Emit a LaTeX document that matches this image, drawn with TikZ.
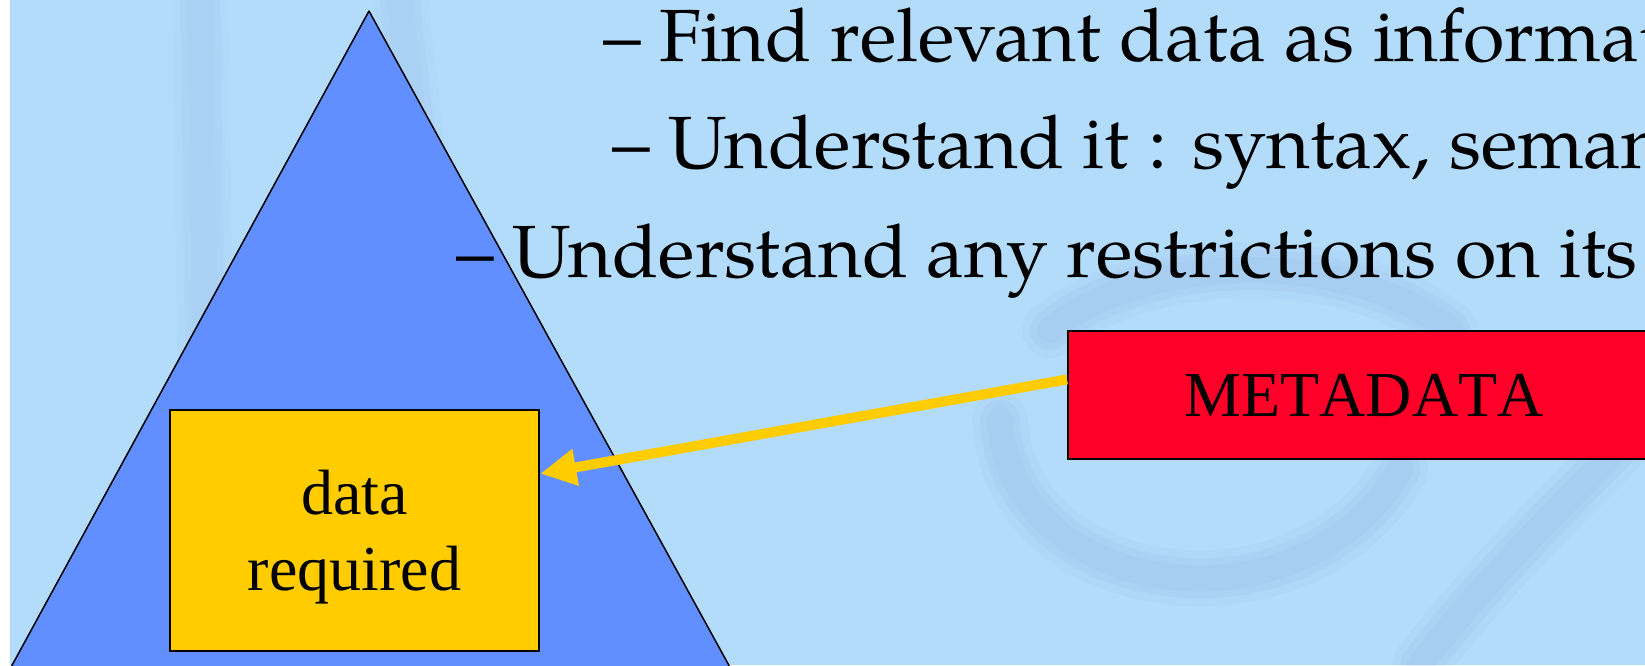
\documentclass[tikz,border=0pt]{standalone}
\usepackage{fontspec}
\setmainfont[Kerning=Off]{Liberation Serif}
\newfontfamily\palafont[FakeStretch=1.02]{TeX Gyre Pagella}
\usetikzlibrary{arrows.meta,positioning}
\tikzset{>=latex}
\definecolor{slidebg}{RGB}{179,220,250}
\definecolor{pyramidblue}{RGB}{98,143,255}
\definecolor{datayellow}{RGB}{255,204,0}
\definecolor{metared}{RGB}{255,0,40}
\colorlet{watermark}{blue!35!gray}
\tikzset{
  bulletline/.style={anchor=base west,inner sep=0pt,
    font=\palafont\fontsize{74}{88}\selectfont},
  databox/.style={draw=black,line width=2.5pt,fill=datayellow,inner sep=0pt,
    minimum width=369pt,minimum height=241pt},
  boxtext/.style={inner sep=0pt,align=center,font=\fontsize{64}{76}\selectfont},
  metabox/.style={draw=black,line width=2pt,fill=metared,inner sep=0pt,
    minimum width=592pt,minimum height=128pt,
    font=\fontsize{64}{76}\selectfont},
  pointer/.style={datayellow,line width=10pt,
    -{Triangle[length=36pt,width=35pt]}},
  swirl/.style={watermark,opacity=.035,line cap=round},
}
\begin{document}
\begin{tikzpicture}[x=1pt,y=-1pt]
  \useasboundingbox (0,0) rectangle (1645,665);
  \clip (0,0) rectangle (1645,665);
  \fill[slidebg] (0,0) rectangle (1645,665);
  % faint background picture
  \foreach \w in {56,40,26}{
    \draw[swirl,line width=\w pt] (1000,420) .. controls (1010,600) and (1300,640) .. (1400,470);
    \draw[swirl,line width=\w pt] (1420,665) .. controls (1500,560) and (1600,470) .. (1645,420);
    \draw[swirl,line width=\w pt] (1050,330) .. controls (1150,250) and (1350,250) .. (1450,330);
    \draw[swirl,opacity=.025,line width=\w pt] (400,0) .. controls (420,200) and (460,400) .. (430,665);
    \draw[swirl,opacity=.025,line width=\w pt] (200,0) -- (210,665);
  }
  % pyramid
  \draw[fill=pyramidblue,line width=1.5pt,line join=round]
    (369,11) -- (737,680) -- (4,680) -- cycle;
  \node[databox] (req) at (354.5,530.5) {};
  \node[boxtext] (reqtext) at ([yshift=-6.5pt]req.center) {data\\required};
  \node[metabox,anchor=north west] (meta) at (1067,330) {METADATA};
  \draw[pointer] (meta.177.3) -- (req.17);
  % text lines
  \node[bulletline] (find) at (603,61) {– Find relevant data as informat};
  \node[bulletline] (syntax) at (612,168) {– Understand it : syntax, seman};
  \node[bulletline] (restrict) at (456,277) {– Understand any restrictions on its};
  \fill[white] (0,0) rectangle (10,665);
\end{tikzpicture}
\end{document}
